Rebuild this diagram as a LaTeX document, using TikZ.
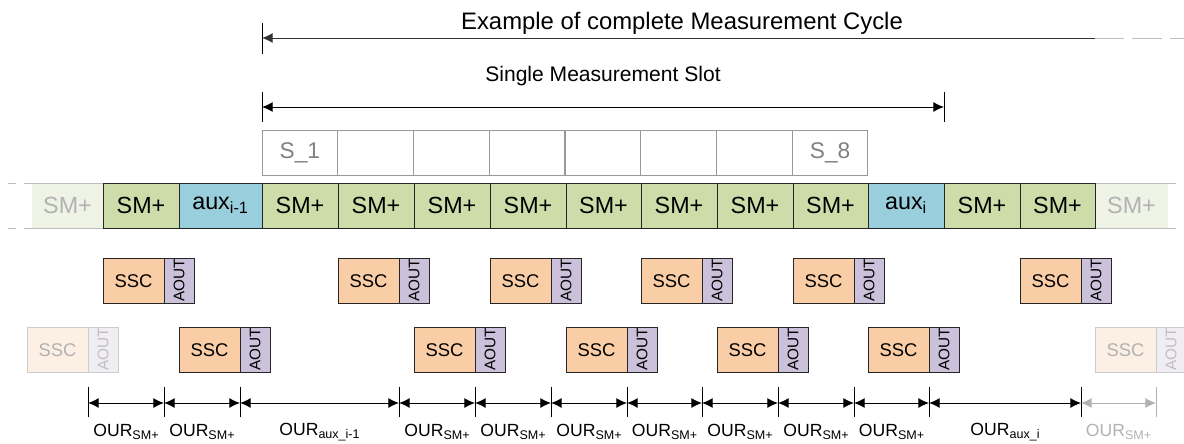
\documentclass[tikz,border=0pt]{standalone}
\usepackage{fontspec}
\setmainfont{Liberation Sans}
\usepackage{graphicx}
\usetikzlibrary{arrows.meta}

\definecolor{smgreen}{RGB}{204,221,170}
\definecolor{smfade}{RGB}{239,243,229}
\definecolor{auxblue}{RGB}{153,206,220}
\definecolor{sscorange}{RGB}{249,205,166}
\definecolor{aoutpurple}{RGB}{204,193,218}
\definecolor{sscfade}{RGB}{252,240,228}
\definecolor{aoutfade}{RGB}{240,237,243}

\newcommand{\oursub}[1]{\raisebox{-0.3ex}{\fontsize{9.4}{11}\selectfont #1}}

\tikzset{every picture/.style={line width=0.75pt}}
\tikzset{
  cell/.style={draw=black!85, inner sep=0pt, outer sep=0pt, anchor=north west,
    minimum height=33.75pt, font=\fontsize{17.5}{20}\selectfont},
  fadecell/.style={cell, draw=none, fill=smfade, text=black!30},
  slotbox/.style={cell, draw=black!40, text=black!50, font=\fontsize{17}{20}\selectfont},
  sscbox/.style={cell, fill=sscorange, minimum width=45.75pt, minimum height=34pt,
    font=\fontsize{13.8}{16}\selectfont},
  aoutbox/.style={cell, fill=aoutpurple, minimum width=22.5pt, minimum height=34pt,
    font=\fontsize{11.5}{13}\selectfont},
  fadessc/.style={sscbox, draw=black!20, fill=sscfade, text=black!30},
  fadeaout/.style={aoutbox, draw=black!20, fill=aoutfade, text=black!25},
  dimtip/.style={{Latex[length=8pt,width=7.5pt]}-{Latex[length=8pt,width=7.5pt]}},
  ourlabel/.style={font=\fontsize{13.2}{16}\selectfont, inner sep=0pt},
  rowline/.style={black!25, dash pattern=on 6pt off 6pt},
}

\begin{document}
\begin{tikzpicture}[x=0.75pt,y=0.75pt,yscale=-1,xscale=1]
\useasboundingbox (0,0) rectangle (1184,443);

% titles
\node[font=\fontsize{17.9}{20}\selectfont] (cycletitle) at (682,23) {Example of complete Measurement Cycle};
\node[font=\fontsize{15.8}{18}\selectfont] (slottitle) at (603,76) {Single Measurement Slot};

% complete cycle arrow
\coordinate (cyctop) at (262,23);
\coordinate (cycbot) at (262,54);
\coordinate (cycA) at (262,38);
\coordinate (cycB) at (1095,38);
\coordinate (cycC) at (1184,38);
\draw (cyctop) -- (cycbot);
\draw [black!80, -{Latex[length=8pt,width=7.5pt]}] (cycB) -- (cycA);
\draw [black!25, dash pattern=on 22pt off 6pt] (cycB) -- (cycC);

% single slot arrow
\coordinate (sltopA) at (262,92);
\coordinate (slbotA) at (262,122);
\coordinate (sltopB) at (944,92);
\coordinate (slbotB) at (944,122);
\coordinate (slA) at (262,107);
\coordinate (slB) at (944,107);
\draw (sltopA) -- (slbotA);
\draw (sltopB) -- (slbotB);
\draw [dimtip] (slA) -- (slB);

% slots
\foreach \i/\lbl in {1/S\_1,2/,3/,4/,5/,6/,7/,8/S\_8}
  \node[slotbox, minimum width=56.8pt] (slot\i) at ({262+(\i-1)*75.75},130) {\lbl};

% measurement row
\node[fadecell, minimum width=53.25pt] (smleft) at (32,183) {SM+};
\node[fadecell, minimum width=54.75pt] (smright) at (1095,183) {SM+};
\draw [black!25] (smleft.north west) -- (smleft.north east);
\draw [black!25] (smleft.south west) -- (smleft.south east);
\draw [black!25] (smright.north west) -- (smright.north east);
\draw [black!25] (smright.south west) -- (smright.south east);
\coordinate (rowTL) at (0,183);
\coordinate (rowBL) at (0,228);
\coordinate (rowTR) at (1184,183);
\coordinate (rowBR) at (1184,228);
\draw [rowline] (smleft.north west) -- (rowTL);
\draw [rowline] (smleft.south west) -- (rowBL);
\draw [rowline] (smright.north east) -- (rowTR);
\draw [rowline] (smright.south east) -- (rowBR);

\foreach \nm/\xa/\xb/\fl/\lbl in {
    sma/103/179/smgreen/SM+,
    auxa/179/262/auxblue/aux\textsubscript{i-1},
    smb/262/338/smgreen/SM+,
    smc/338/414/smgreen/SM+,
    smd/414/490/smgreen/SM+,
    sme/490/566/smgreen/SM+,
    smf/566/641/smgreen/SM+,
    smg/641/717/smgreen/SM+,
    smh/717/793/smgreen/SM+,
    smi/793/868/smgreen/SM+,
    auxb/868/944/auxblue/aux\textsubscript{i},
    smj/944/1020/smgreen/SM+,
    smk/1020/1095/smgreen/SM+}
  \node[cell, fill=\fl, minimum width={(\xb-\xa)*0.75pt}] (\nm) at (\xa,183) {\lbl};

% conversions, upper row
\foreach \x [count=\k] in {103,338,490,641,793,1020}{
  \node[sscbox] (sscu\k) at (\x,258) {SSC};
  \node[aoutbox] (aoutu\k) at (sscu\k.north east) {\rotatebox{90}{AOUT}};
}

% conversions, lower row
\node[fadessc] (sscl0) at (27,327) {SSC};
\node[fadeaout] (aoutl0) at (sscl0.north east) {\rotatebox{90}{AOUT}};
\foreach \x [count=\k] in {179,414,566,717,868}{
  \node[sscbox] (sscl\k) at (\x,327) {SSC};
  \node[aoutbox] (aoutl\k) at (sscl\k.north east) {\rotatebox{90}{AOUT}};
}
\node[fadessc] (sscl6) at (1095,327) {SSC};
\node[fadeaout] (aoutl6) at (sscl6.north east) {\rotatebox{90}{AOUT}};

% update rate ticks
\foreach \x [count=\k] in {88,164,240,399,475,551,627,702,778,854,929,1081}{
  \coordinate (ta\k) at (\x,387);
  \coordinate (tb\k) at (\x,417);
  \coordinate (tm\k) at (\x,403);
  \draw (ta\k) -- (tb\k);
}
\coordinate (ta13) at (1156,387);
\coordinate (tb13) at (1156,417);
\coordinate (tm13) at (1156,403);
\draw [black!30] (ta13) -- (tb13);

\foreach \a/\b/\lbl in {1/2/SM+,2/3/SM+,3/4/aux\_i-1,4/5/SM+,5/6/SM+,6/7/SM+,
    7/8/SM+,8/9/SM+,9/10/SM+,10/11/SM+,11/12/aux\_i}
  \draw [dimtip] (tm\a) -- (tm\b) node[ourlabel, midway, yshift=-21.75pt] (our\a) {OUR\oursub{\lbl}};
\draw [dimtip, black!30] (tm12) -- (tm13) node[ourlabel, midway, yshift=-21.75pt, text=black!30] (our12) {OUR\oursub{SM+}};

\end{tikzpicture}
\end{document}
